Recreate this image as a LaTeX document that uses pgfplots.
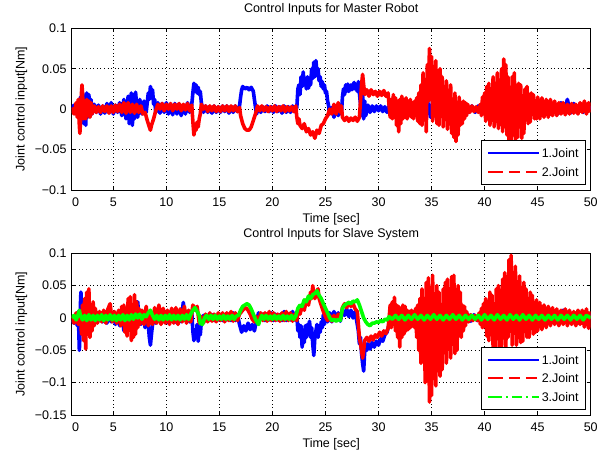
\documentclass[border=0pt]{standalone}
\usepackage{fontspec}
\setmainfont{Liberation Sans}
\usepackage{pgfplots}
\pgfplotsset{compat=1.18}
\begin{document}
\begin{tikzpicture}[font=\fontsize{12.5}{15}\selectfont]
\path[use as bounding box] (0pt,0pt) rectangle (611pt,452pt);
\pgfplotsset{
 myaxis/.style={
  scale only axis, width=519pt, height=161.7pt, anchor=south west,
  xmin=1.08, xmax=50,
  xtick={5,10,...,50},
  xticklabels={5,10,15,20,25,30,35,40,45,50},
  extra x ticks={1.44}, extra x tick labels={0},
  extra x tick style={grid=none, major tick length=0pt},
  tick align=inside, major tick length=4pt,
  tick style={black, line width=0.6pt},
  axis line style={black, line width=0.9pt},
  grid=major,
  major grid style={black, line width=0.5pt, dash pattern=on 0.6pt off 3pt},
  xticklabel style={anchor=base, yshift=-16.7pt, inner sep=0pt},
  yticklabel style={anchor=east, inner sep=0pt, xshift=-5pt},
  xlabel={Time [sec]},
  xlabel style={at={(axis description cs:0.5,0)}, anchor=base, yshift=-33pt},
  ylabel={Joint control input[Nm]},
  ylabel style={at={(axis description cs:-0.0909,0.5)}, anchor=base},
  title style={at={(axis description cs:0.5,1)}, anchor=base, yshift=9.5pt},
  legend style={at={(1,0)}, anchor=south east, xshift=-4.7pt, yshift=5pt,
    draw=black, line width=0.8pt, fill=white, inner xsep=5pt, inner ysep=6pt,
    row sep=5.6pt, nodes={inner sep=2pt, text depth=0pt}, cells={anchor=west}},
  legend image code/.code={\path (0pt,0pt) -- (4pt,0pt); \draw[##1] (4pt,0pt) -- (51pt,0pt);},
  every axis plot/.append style={line width=3.6pt, line join=round},
 }
}
% ---------------- Top: Master robot ----------------
\begin{axis}[myaxis, at={(71.7pt,262pt)},
  ymin=-0.1, ymax=0.1, ytick={-0.1,-0.05,0,0.05,0.1},
  yticklabels={−0.1,−0.05,0,0.05,0.1},
  title={Control Inputs for Master Robot}]
\addplot[blue, forget plot] coordinates {
(1.1,0.000)(1.3,0.005)(1.5,-0.006)(1.7,0.008)(1.8,-0.01)(1.9,0.015)(2.0,-0.012)(2.1,0.02)(2.2,-0.018)(2.3,0.016)(2.4,-0.02)(2.5,0.02)(2.6,-0.01)(2.7,0.018)(2.8,-0.008)(2.9,0.012)(3.0,-0.006)(3.2,0.006)(3.4,-0.004)(3.6,0.005)(3.8,-0.006)(4.0,0.004)(4.2,-0.005)(4.4,0.007)(4.6,-0.004)(4.8,0.008)(5.0,-0.006)(5.2,0.005)(5.4,-0.004)(5.6,0.008)(5.8,-0.008)(6.0,0.012)(6.2,-0.012)(6.4,0.016)(6.5,-0.018)(6.7,0.02)(6.8,-0.02)(6.9,0.018)(7.0,-0.012)(7.1,0.021)(7.3,-0.01)(7.5,0.012)(7.7,-0.006)(7.9,0.01)(8.1,-0.004)(8.3,0.02)(8.4,0.012)(8.5,0.028)(8.6,0.015)(8.7,0.024)(8.8,0.006)(8.9,0.012)(9.0,-0.004)(9.2,0.008)(9.4,-0.005)(9.6,0.007)(9.8,-0.004)(10.0,0.008)(10.2,-0.006)(10.4,0.006)(10.6,-0.007)(10.8,0.007)(11.0,-0.006)(11.2,0.006)(11.4,-0.008)(11.6,0.005)(11.8,-0.006)(12.0,0.008)(12.2,-0.004)(12.4,0.006)(12.5,0.02)(12.6,0.032)(12.7,0.022)(12.8,0.03)(12.9,0.02)(13.0,0.027)(13.1,0.018)(13.2,0.022)(13.3,0.008)(13.5,-0.004)(13.7,0.004)(13.9,-0.004)(14.1,0.003)(14.3,-0.005)(14.5,0.004)(14.7,-0.004)(14.9,0.003)(15.1,-0.004)(15.3,0.004)(15.5,-0.003)(15.7,0.004)(15.9,-0.005)(16.1,0.003)(16.3,-0.004)(16.5,0.004)(16.7,-0.003)(16.9,0.004)(17.0,0.015)(17.1,0.024)(17.2,0.028)(17.4,0.025)(17.6,0.027)(17.8,0.024)(18.0,0.027)(18.2,0.022)(18.3,0.012)(18.4,0.003)(18.5,-0.006)(18.7,0.002)(18.9,-0.004)(19.1,0.003)(19.3,-0.003)(19.5,0.004)(19.7,-0.003)(19.9,0.003)(20.1,-0.004)(20.3,0.004)(20.5,-0.003)(20.7,0.003)(20.9,-0.005)(21.1,0.004)(21.3,-0.004)(21.5,0.003)(21.7,-0.004)(21.9,0.004)(22.1,-0.003)(22.3,0.002)(22.4,0.025)(22.5,0.03)(22.6,0.018)(22.7,0.04)(22.8,0.028)(22.9,0.046)(23.0,0.03)(23.1,0.038)(23.2,0.025)(23.3,0.04)(23.4,0.026)(23.5,0.035)(23.6,0.03)(23.7,0.05)(23.8,0.038)(23.9,0.058)(24.0,0.04)(24.1,0.06)(24.2,0.045)(24.3,0.05)(24.4,0.035)(24.5,0.04)(24.6,0.028)(24.7,0.034)(24.8,0.025)(24.9,0.03)(25.0,0.02)(25.1,0.022)(25.2,0.01)(25.3,0.004)(25.4,-0.006)(25.6,0.002)(25.8,-0.01)(26.0,0.003)(26.2,-0.008)(26.4,0.004)(26.5,-0.006)(26.6,0.015)(26.7,0.025)(26.8,0.018)(26.9,0.03)(27.0,0.022)(27.1,0.031)(27.2,0.022)(27.4,0.03)(27.5,0.024)(27.7,0.033)(27.8,0.025)(27.9,0.028)(28.0,0.022)(28.1,0.034)(28.2,0.02)(28.3,0.006)(28.4,-0.008)(28.5,0.018)(28.6,-0.012)(28.7,0.01)(28.8,-0.008)(29.0,0.005)(29.2,-0.004)(29.4,0.004)(29.6,-0.003)(29.8,0.004)(30.0,-0.002)(30.2,0.004)(30.4,-0.003)(30.6,0.003)(30.8,-0.004)(31.0,0.004)(31.3,-0.005)(31.6,0.006)(31.9,-0.006)(32.2,0.005)(32.5,-0.005)(32.8,0.006)(33.1,-0.004)(33.4,0.005)(33.7,-0.006)(34.0,0.008)(34.3,-0.008)(34.6,0.012)(34.9,-0.01)(35.2,0.02)(35.5,-0.014)(35.8,0.018)(36.1,-0.01)(36.4,0.012)(36.7,-0.012)(37.0,0.01)(37.3,-0.008)(37.6,0.008)(37.9,-0.006)(38.2,0.006)(38.5,-0.004)(38.8,0.004)(39.1,-0.004)(39.4,0.004)(39.7,-0.003)(40.0,0.005)(40.3,-0.006)(40.6,0.008)(40.9,-0.008)(41.2,0.01)(41.5,-0.008)(41.8,0.012)(42.1,-0.01)(42.4,0.015)(42.7,-0.01)(43.0,0.01)(43.3,-0.008)(43.6,0.01)(43.9,-0.008)(44.2,0.008)(44.5,-0.006)(44.8,0.007)(45.1,-0.006)(45.4,0.006)(45.7,-0.007)(46.0,0.008)(46.3,-0.005)(46.6,0.006)(46.9,-0.006)(47.2,0.008)(47.5,-0.004)(47.8,0.012)(48.1,-0.005)(48.4,0.007)(48.7,-0.004)(49.0,0.006)(49.3,-0.004)(49.6,0.005)(50.0,0.000)
};
\addplot[red, forget plot] coordinates {
(1.1,0.002)(1.3,-0.006)(1.5,0.008)(1.6,-0.01)(1.7,0.012)(1.8,-0.02)(1.85,-0.03)(1.9,-0.018)(2.0,0.02)(2.05,0.03)(2.1,0.02)(2.2,-0.012)(2.3,0.01)(2.4,-0.012)(2.5,0.012)(2.6,-0.008)(2.7,0.01)(2.8,-0.01)(2.9,0.008)(3.0,-0.006)(3.2,0.004)(3.4,-0.004)(3.6,0.003)(3.8,-0.004)(4.0,0.004)(4.2,-0.003)(4.4,0.004)(4.6,-0.005)(4.8,0.004)(5.0,-0.004)(5.2,0.005)(5.4,-0.003)(5.6,0.006)(5.8,-0.004)(6.0,0.008)(6.2,-0.005)(6.4,0.008)(6.6,-0.004)(6.8,0.006)(7.0,-0.005)(7.2,0.006)(7.4,-0.004)(7.6,0.004)(7.8,-0.006)(8.0,-0.004)(8.2,-0.014)(8.4,-0.022)(8.5,-0.026)(8.6,-0.02)(8.8,-0.012)(9.0,-0.002)(9.2,0.006)(9.4,0.0)(9.6,0.007)(9.8,-0.002)(10.0,0.006)(10.2,0.0)(10.4,0.007)(10.6,-0.002)(10.8,0.006)(11.0,0.0)(11.2,0.007)(11.4,-0.002)(11.6,0.006)(11.8,-0.001)(12.0,0.007)(12.2,-0.002)(12.4,0.005)(12.5,-0.015)(12.6,-0.032)(12.7,-0.022)(12.8,-0.026)(12.9,-0.016)(13.0,-0.022)(13.1,-0.012)(13.2,-0.006)(13.3,0.006)(13.5,0.0)(13.7,0.004)(13.9,-0.003)(14.1,0.004)(14.3,-0.002)(14.5,0.004)(14.7,-0.003)(14.9,0.003)(15.1,-0.003)(15.3,0.004)(15.5,-0.002)(15.7,0.004)(15.9,-0.003)(16.1,0.004)(16.3,-0.002)(16.5,0.004)(16.7,-0.003)(16.9,0.002)(17.0,-0.008)(17.2,-0.018)(17.4,-0.024)(17.6,-0.026)(17.8,-0.026)(18.0,-0.022)(18.2,-0.014)(18.4,-0.006)(18.6,0.004)(18.8,-0.002)(19.0,0.004)(19.2,-0.002)(19.4,0.003)(19.6,-0.003)(19.8,0.003)(20.0,-0.002)(20.2,0.004)(20.4,-0.003)(20.6,0.003)(20.8,-0.002)(21.0,0.004)(21.2,-0.003)(21.4,0.003)(21.6,-0.002)(21.8,0.003)(22.0,-0.003)(22.2,0.004)(22.3,-0.01)(22.4,-0.018)(22.5,-0.012)(22.6,-0.02)(22.8,-0.024)(23.0,-0.018)(23.2,-0.028)(23.4,-0.024)(23.6,-0.032)(23.8,-0.028)(24.0,-0.036)(24.2,-0.026)(24.4,-0.03)(24.6,-0.02)(24.8,-0.018)(25.0,-0.012)(25.2,-0.008)(25.4,0.0)(25.6,-0.006)(25.8,0.006)(26.0,-0.006)(26.2,0.008)(26.4,-0.004)(26.5,0.004)(26.6,-0.01)(26.8,-0.014)(27.0,-0.01)(27.2,-0.015)(27.4,-0.011)(27.6,-0.014)(27.8,-0.01)(28.0,-0.015)(28.2,-0.01)(28.3,0.01)(28.4,0.03)(28.5,0.043)(28.6,0.03)(28.7,0.018)(28.9,0.024)(29.1,0.016)(29.3,0.024)(29.5,0.018)(29.7,0.022)(29.9,0.016)(30.1,0.022)(30.3,0.017)(30.5,0.023)(30.7,0.016)(30.9,0.02)(31.0,0.004)(31.1,-0.01)(31.2,0.012)(31.3,-0.012)(31.4,0.018)(31.5,-0.01)(31.6,0.014)(31.7,-0.02)(31.8,0.01)(31.9,-0.028)(32.0,0.012)(32.1,-0.018)(32.2,0.016)(32.3,-0.012)(32.4,0.012)(32.5,-0.01)(32.6,0.014)(32.7,-0.012)(32.8,0.01)(32.9,-0.008)(33.0,0.012)(33.1,-0.01)(33.2,0.008)(33.3,-0.012)(33.4,0.01)(33.5,-0.008)(33.6,0.014)(33.7,-0.015)(33.8,0.02)(33.9,-0.018)(34.0,0.03)(34.1,-0.02)(34.2,0.045)(34.3,-0.01)(34.4,0.035)(34.5,-0.028)(34.6,0.055)(34.7,0.01)(34.8,0.075)(34.9,0.02)(35.0,0.065)(35.1,-0.015)(35.2,0.05)(35.3,0.0)(35.4,0.06)(35.5,-0.018)(35.6,0.03)(35.7,-0.02)(35.8,0.05)(35.9,0.005)(36.0,0.04)(36.1,-0.022)(36.2,0.025)(36.3,-0.01)(36.4,0.035)(36.5,-0.025)(36.6,0.02)(36.7,-0.015)(36.8,0.03)(36.9,-0.03)(37.0,0.01)(37.1,-0.035)(37.2,0.02)(37.3,-0.04)(37.4,-0.01)(37.5,-0.032)(37.6,0.015)(37.7,-0.02)(37.8,0.008)(37.9,-0.018)(38.0,0.01)(38.1,-0.012)(38.2,0.008)(38.3,-0.008)(38.4,0.006)(38.6,-0.004)(38.8,0.004)(39.0,-0.003)(39.2,0.003)(39.4,-0.004)(39.6,0.006)(39.7,-0.008)(39.8,0.015)(39.9,-0.005)(40.0,0.02)(40.1,-0.015)(40.2,0.028)(40.3,0.0)(40.4,0.032)(40.5,-0.02)(40.6,0.02)(40.7,-0.012)(40.8,0.04)(40.9,-0.022)(41.0,0.03)(41.1,0.005)(41.2,0.045)(41.3,-0.024)(41.4,0.035)(41.5,-0.01)(41.6,0.05)(41.7,-0.028)(41.8,0.062)(41.9,0.03)(42.0,0.055)(42.1,-0.032)(42.2,0.04)(42.3,-0.038)(42.4,0.02)(42.5,-0.04)(42.6,0.04)(42.7,-0.02)(42.8,0.045)(42.9,-0.04)(43.0,0.025)(43.1,-0.035)(43.2,0.032)(43.3,-0.01)(43.4,0.03)(43.5,-0.036)(43.6,0.015)(43.7,-0.03)(43.8,0.025)(43.9,-0.01)(44.0,0.028)(44.1,-0.018)(44.2,0.012)(44.3,-0.016)(44.4,0.02)(44.5,-0.005)(44.6,0.018)(44.7,-0.012)(44.8,0.01)(44.9,-0.012)(45.0,0.015)(45.2,-0.012)(45.4,0.014)(45.6,-0.01)(45.8,0.012)(46.0,-0.01)(46.2,0.012)(46.4,-0.008)(46.6,0.01)(46.8,-0.008)(47.0,0.008)(47.2,-0.006)(47.4,0.008)(47.6,-0.007)(47.8,0.006)(48.0,-0.006)(48.2,0.007)(48.4,-0.005)(48.6,0.006)(48.8,-0.006)(49.0,0.008)(49.2,-0.004)(49.4,0.01)(49.6,-0.006)(49.8,0.008)(50.0,-0.004)
};
\addlegendimage{blue, solid, line width=2pt}
\addlegendentry{1.Joint}
\addlegendimage{red, line width=2pt, dash pattern=on 11pt off 6pt}
\addlegendentry{2.Joint}
\end{axis}
% ---------------- Bottom: Slave system ----------------
\begin{axis}[myaxis, at={(71.7pt,37pt)},
  ymin=-0.15, ymax=0.1, ytick={-0.15,-0.1,-0.05,0,0.05,0.1},
  yticklabels={−0.15,−0.1,−0.05,0,0.05,0.1},
  title={Control Inputs for Slave System}]
\addplot[blue, forget plot] coordinates {
(1.1,-0.004)(1.3,-0.008)(1.5,0.004)(1.6,-0.012)(1.7,0.01)(1.8,-0.05)(1.85,-0.03)(1.9,0.02)(1.95,0.04)(2.0,0.015)(2.1,-0.01)(2.2,0.008)(2.4,-0.01)(2.6,0.006)(2.8,-0.008)(3.0,0.006)(3.2,-0.006)(3.4,0.008)(3.6,-0.005)(3.8,0.006)(4.0,-0.006)(4.2,0.005)(4.4,-0.008)(4.6,0.006)(4.8,-0.006)(5.0,0.008)(5.2,-0.01)(5.4,0.006)(5.6,-0.012)(5.8,0.008)(6.0,-0.02)(6.2,0.01)(6.4,-0.015)(6.6,0.012)(6.8,-0.03)(7.0,0.005)(7.2,-0.01)(7.3,0.025)(7.4,0.005)(7.6,-0.01)(7.8,0.01)(8.0,-0.015)(8.2,0.008)(8.4,-0.03)(8.5,-0.042)(8.6,-0.025)(8.8,0.005)(9.0,-0.008)(9.2,0.01)(9.4,-0.006)(9.6,0.012)(9.8,-0.006)(10.0,0.01)(10.2,-0.008)(10.4,0.01)(10.6,-0.006)(10.8,0.012)(11.0,-0.008)(11.2,0.01)(11.4,-0.006)(11.6,0.024)(11.8,-0.004)(12.0,0.01)(12.2,-0.006)(12.4,0.008)(12.5,-0.02)(12.6,-0.035)(12.7,-0.02)(12.8,-0.03)(12.9,-0.01)(13.0,-0.036)(13.1,-0.018)(13.2,-0.026)(13.3,-0.006)(13.5,0.004)(13.7,-0.004)(13.9,0.004)(14.1,-0.003)(14.3,0.005)(14.5,-0.004)(14.7,0.004)(14.9,-0.003)(15.1,0.005)(15.3,-0.004)(15.5,0.004)(15.7,-0.003)(15.9,0.006)(16.1,-0.004)(16.3,0.008)(16.5,-0.004)(16.7,0.005)(16.9,-0.01)(17.1,-0.022)(17.3,-0.012)(17.5,-0.02)(17.7,-0.008)(17.9,-0.018)(18.1,-0.01)(18.3,-0.02)(18.5,-0.004)(18.7,0.008)(18.9,-0.002)(19.1,0.006)(19.3,-0.004)(19.5,0.006)(19.7,-0.003)(19.9,0.008)(20.1,-0.004)(20.3,0.006)(20.5,-0.003)(20.7,0.005)(20.9,-0.004)(21.1,0.01)(21.3,-0.004)(21.5,0.006)(21.7,-0.003)(21.9,0.01)(22.1,-0.003)(22.3,0.004)(22.4,-0.02)(22.5,-0.01)(22.6,-0.03)(22.7,-0.012)(22.8,-0.045)(22.9,-0.02)(23.0,-0.038)(23.1,-0.012)(23.2,-0.03)(23.3,-0.01)(23.4,-0.025)(23.5,-0.005)(23.6,-0.03)(23.7,-0.015)(23.8,-0.04)(23.9,-0.058)(24.0,-0.03)(24.1,-0.02)(24.2,-0.01)(24.3,-0.03)(24.4,-0.012)(24.5,-0.022)(24.6,-0.006)(24.7,-0.015)(24.8,0.005)(24.9,-0.01)(25.0,0.01)(25.2,-0.006)(25.4,0.008)(25.6,-0.006)(25.8,0.01)(26.0,-0.004)(26.2,0.008)(26.4,-0.005)(26.6,0.012)(26.8,0.004)(27.0,0.014)(27.2,0.002)(27.4,0.012)(27.6,0.0)(27.8,0.01)(28.0,-0.01)(28.1,-0.02)(28.2,-0.04)(28.3,-0.03)(28.4,-0.055)(28.5,-0.07)(28.6,-0.082)(28.7,-0.05)(28.8,-0.04)(28.9,-0.05)(29.0,-0.04)(29.2,-0.048)(29.4,-0.038)(29.6,-0.045)(29.8,-0.036)(30.0,-0.042)(30.2,-0.032)(30.4,-0.036)(30.6,-0.026)(30.8,-0.022)(31.0,-0.01)(31.2,0.004)(31.5,-0.008)(31.8,0.006)(32.1,-0.008)(32.4,0.008)(32.7,-0.006)(33.0,0.01)(33.3,-0.008)(33.6,0.012)(33.9,-0.01)(34.2,0.02)(34.5,-0.012)(34.8,0.018)(35.1,-0.01)(35.4,0.016)(35.7,-0.012)(36.0,0.012)(36.3,-0.01)(36.6,0.01)(36.9,-0.008)(37.2,0.01)(37.5,-0.008)(37.8,0.008)(38.1,-0.006)(38.4,0.006)(38.7,-0.005)(39.0,0.005)(39.3,-0.004)(39.6,0.008)(39.9,-0.008)(40.2,0.01)(40.5,-0.012)(40.8,0.012)(41.1,-0.014)(41.4,0.02)(41.7,-0.01)(42.0,0.012)(42.3,-0.012)(42.6,0.01)(42.9,-0.01)(43.2,0.01)(43.5,-0.008)(43.8,0.01)(44.1,-0.008)(44.4,0.008)(44.7,-0.006)(45.0,0.008)(45.3,-0.006)(45.6,0.006)(45.9,-0.008)(46.2,0.008)(46.5,-0.006)(46.8,0.006)(47.1,-0.006)(47.4,0.012)(47.7,-0.004)(48.0,0.008)(48.3,-0.006)(48.6,0.007)(48.9,-0.008)(49.2,0.01)(49.5,-0.004)(49.8,0.006)(50.0,-0.002)
};
\addplot[red, forget plot] coordinates {
(1.1,0.002)(1.3,-0.008)(1.5,0.008)(1.7,-0.01)(1.9,0.01)(2.0,-0.025)(2.1,0.02)(2.2,-0.035)(2.3,0.03)(2.4,-0.048)(2.5,0.04)(2.6,-0.02)(2.7,0.045)(2.8,-0.03)(2.9,0.015)(3.0,-0.02)(3.1,0.025)(3.2,-0.012)(3.3,0.015)(3.5,-0.008)(3.7,0.01)(3.9,-0.006)(4.1,0.012)(4.3,-0.008)(4.5,0.014)(4.7,0.022)(4.9,-0.006)(5.1,0.01)(5.3,-0.008)(5.5,0.012)(5.7,-0.012)(5.8,0.018)(5.9,-0.008)(6.0,0.02)(6.1,-0.022)(6.2,0.01)(6.3,-0.028)(6.4,0.03)(6.5,-0.012)(6.6,0.033)(6.7,-0.035)(6.8,0.02)(6.9,-0.03)(7.0,0.036)(7.1,-0.025)(7.2,0.025)(7.3,-0.015)(7.4,0.015)(7.5,-0.01)(7.7,0.012)(7.9,-0.01)(8.1,0.018)(8.3,-0.012)(8.5,0.01)(8.7,-0.01)(8.9,0.016)(9.1,-0.008)(9.3,0.02)(9.5,-0.01)(9.7,0.015)(9.9,-0.008)(10.1,0.012)(10.3,-0.01)(10.5,0.015)(10.7,-0.008)(10.9,0.016)(11.1,-0.01)(11.3,0.014)(11.5,-0.006)(11.7,0.018)(11.9,-0.008)(12.1,0.012)(12.3,-0.006)(12.5,0.02)(12.7,0.012)(12.9,0.018)(13.1,-0.008)(13.3,0.002)(13.5,-0.008)(13.7,0.006)(13.9,-0.006)(14.1,0.008)(14.3,-0.005)(14.5,0.006)(14.7,-0.006)(14.9,0.008)(15.1,-0.004)(15.3,0.008)(15.5,-0.006)(15.7,0.008)(15.9,-0.004)(16.1,0.01)(16.3,-0.005)(16.5,0.008)(16.7,-0.004)(16.9,0.006)(17.1,0.01)(17.3,0.014)(17.5,0.016)(17.7,0.012)(17.9,0.006)(18.1,-0.002)(18.3,-0.006)(18.5,0.002)(18.7,-0.006)(18.9,0.008)(19.1,-0.004)(19.3,0.008)(19.5,-0.005)(19.7,0.01)(19.9,-0.004)(20.1,0.008)(20.3,-0.004)(20.5,0.006)(20.7,-0.005)(20.9,0.008)(21.1,-0.004)(21.3,0.01)(21.5,-0.004)(21.7,0.008)(21.9,-0.005)(22.1,0.006)(22.3,-0.004)(22.4,0.012)(22.6,0.006)(22.8,0.018)(23.0,0.012)(23.2,0.028)(23.4,0.02)(23.6,0.04)(23.7,0.03)(23.8,0.05)(23.9,0.035)(24.0,0.03)(24.2,0.042)(24.3,0.045)(24.4,0.03)(24.6,0.02)(24.8,0.01)(25.0,0.002)(25.2,-0.004)(25.4,0.004)(25.6,-0.005)(25.8,0.004)(26.0,-0.004)(26.2,0.006)(26.4,-0.002)(26.6,0.016)(26.8,0.022)(27.0,0.016)(27.2,0.024)(27.4,0.018)(27.6,0.022)(27.8,0.014)(28.0,0.01)(28.1,-0.01)(28.2,-0.03)(28.3,-0.04)(28.4,-0.05)(28.5,-0.062)(28.6,-0.05)(28.7,-0.035)(28.9,-0.03)(29.1,-0.036)(29.3,-0.028)(29.5,-0.034)(29.7,-0.026)(29.9,-0.03)(30.1,-0.022)(30.3,-0.028)(30.5,-0.02)(30.7,-0.024)(30.9,-0.016)(31.0,0.0)(31.1,0.02)(31.2,-0.015)(31.3,0.025)(31.4,-0.01)(31.5,0.032)(31.6,-0.02)(31.7,0.02)(31.8,-0.03)(31.9,0.018)(32.0,-0.045)(32.1,0.015)(32.2,-0.03)(32.3,0.02)(32.4,-0.025)(32.5,0.018)(32.6,-0.02)(32.7,0.012)(32.8,-0.018)(32.9,0.01)(33.0,-0.015)(33.1,0.012)(33.2,-0.012)(33.3,0.01)(33.4,-0.015)(33.5,0.015)(33.6,-0.03)(33.7,0.02)(33.8,-0.05)(33.9,0.03)(34.0,-0.07)(34.1,0.045)(34.2,-0.04)(34.3,0.03)(34.4,-0.1)(34.5,0.055)(34.6,-0.06)(34.7,0.062)(34.8,-0.13)(34.9,0.02)(35.0,-0.12)(35.1,0.066)(35.2,-0.08)(35.3,0.03)(35.4,-0.105)(35.5,0.05)(35.6,-0.06)(35.7,0.04)(35.8,-0.09)(35.9,0.01)(36.0,-0.08)(36.1,0.045)(36.2,-0.04)(36.3,0.055)(36.4,-0.07)(36.5,0.06)(36.6,-0.03)(36.7,0.045)(36.8,-0.062)(36.9,0.064)(37.0,-0.04)(37.1,0.066)(37.2,-0.055)(37.3,0.03)(37.4,-0.05)(37.5,0.05)(37.6,-0.02)(37.7,0.04)(37.8,-0.03)(37.9,0.02)(38.0,-0.02)(38.1,0.018)(38.2,-0.012)(38.3,0.01)(38.5,-0.006)(38.7,0.005)(38.9,-0.004)(39.1,0.004)(39.3,-0.004)(39.5,0.008)(39.6,-0.01)(39.7,0.015)(39.8,-0.015)(39.9,0.022)(40.0,-0.005)(40.1,0.03)(40.2,-0.028)(40.3,0.02)(40.4,-0.035)(40.5,0.04)(40.6,-0.01)(40.7,0.035)(40.8,-0.045)(40.9,0.02)(41.0,-0.05)(41.1,0.045)(41.2,-0.02)(41.3,0.05)(41.4,-0.05)(41.5,0.03)(41.6,-0.045)(41.7,0.06)(41.8,-0.02)(41.9,0.07)(42.0,-0.045)(42.1,0.05)(42.2,-0.03)(42.3,0.09)(42.4,0.02)(42.5,0.097)(42.6,-0.042)(42.7,0.07)(42.8,-0.02)(42.9,0.08)(43.0,-0.042)(43.1,0.05)(43.2,-0.03)(43.3,0.065)(43.4,-0.038)(43.5,0.035)(43.6,-0.036)(43.7,0.055)(43.8,-0.015)(43.9,0.045)(44.0,-0.03)(44.1,0.03)(44.2,-0.03)(44.3,0.04)(44.4,-0.01)(44.5,0.035)(44.6,-0.025)(44.7,0.02)(44.8,-0.022)(44.9,0.028)(45.0,-0.02)(45.2,0.024)(45.4,-0.018)(45.6,0.02)(45.8,-0.015)(46.0,0.018)(46.2,-0.012)(46.4,0.016)(46.6,-0.01)(46.8,0.014)(47.0,-0.012)(47.2,0.012)(47.4,-0.01)(47.6,0.014)(47.8,-0.012)(48.0,0.012)(48.2,-0.01)(48.4,0.01)(48.6,-0.012)(48.8,0.012)(49.0,-0.01)(49.2,0.012)(49.4,-0.014)(49.6,0.014)(49.8,-0.016)(50.0,0.01)
};
\addplot[green, forget plot] coordinates {
(1.1,0.0)(1.3,0.004)(1.5,-0.003)(1.7,0.006)(1.8,0.012)(1.9,0.004)(2.1,-0.003)(2.3,0.004)(2.5,-0.004)(2.7,0.005)(2.9,-0.003)(3.1,0.004)(3.3,-0.004)(3.5,0.004)(3.7,-0.003)(3.9,0.005)(4.1,-0.004)(4.3,0.004)(4.5,-0.003)(4.7,0.005)(4.9,-0.003)(5.1,0.004)(5.3,-0.004)(5.5,0.004)(5.7,-0.003)(5.9,0.005)(6.1,-0.004)(6.3,0.004)(6.5,-0.003)(6.7,0.005)(6.9,-0.002)(7.1,0.006)(7.3,0.0)(7.5,0.006)(7.7,-0.002)(7.9,0.005)(8.1,0.002)(8.3,0.008)(8.5,0.012)(8.7,0.004)(8.9,-0.002)(9.1,0.004)(9.3,-0.003)(9.5,0.004)(9.7,-0.003)(9.9,0.004)(10.1,-0.002)(10.3,0.005)(10.5,-0.003)(10.7,0.004)(10.9,-0.002)(11.1,0.004)(11.3,-0.003)(11.5,0.004)(11.7,-0.002)(11.9,0.005)(12.1,-0.002)(12.3,0.006)(12.5,0.012)(12.7,0.016)(12.9,0.01)(13.1,0.004)(13.2,-0.008)(13.4,-0.01)(13.6,0.0)(13.8,0.004)(14.0,-0.002)(14.2,0.004)(14.4,-0.002)(14.6,0.004)(14.8,-0.002)(15.0,0.003)(15.2,-0.002)(15.4,0.004)(15.6,-0.002)(15.8,0.003)(16.0,-0.002)(16.2,0.004)(16.4,-0.002)(16.6,0.003)(16.8,0.004)(17.0,0.012)(17.2,0.018)(17.4,0.02)(17.6,0.022)(17.8,0.02)(18.0,0.014)(18.2,0.006)(18.4,-0.002)(18.6,-0.008)(18.7,-0.01)(18.8,-0.004)(19.0,0.004)(19.2,-0.002)(19.4,0.004)(19.6,-0.002)(19.8,0.003)(20.0,-0.002)(20.2,0.004)(20.4,-0.002)(20.6,0.003)(20.8,-0.002)(21.0,0.004)(21.2,-0.002)(21.4,0.003)(21.6,-0.002)(21.8,0.004)(22.0,-0.002)(22.2,0.003)(22.4,0.015)(22.6,0.02)(22.8,0.018)(23.0,0.028)(23.2,0.025)(23.4,0.034)(23.6,0.03)(23.8,0.036)(24.0,0.038)(24.2,0.042)(24.4,0.035)(24.6,0.03)(24.8,0.022)(25.0,0.015)(25.2,0.008)(25.4,0.0)(25.6,-0.004)(25.8,-0.002)(26.0,-0.005)(26.2,-0.002)(26.4,-0.004)(26.6,0.015)(26.8,0.02)(27.0,0.022)(27.2,0.024)(27.4,0.022)(27.6,0.026)(27.8,0.025)(28.0,0.028)(28.2,0.02)(28.4,0.01)(28.6,0.0)(28.8,-0.006)(29.0,-0.01)(29.2,-0.012)(29.4,-0.008)(29.6,-0.008)(29.8,-0.006)(30.0,-0.007)(30.2,-0.004)(30.4,-0.006)(30.6,-0.002)(30.8,-0.003)(31.0,0.002)(31.3,-0.002)(31.6,0.004)(31.9,-0.002)(32.2,0.004)(32.5,-0.003)(32.8,0.004)(33.1,-0.002)(33.4,0.005)(33.7,-0.002)(34.0,0.004)(34.3,-0.003)(34.6,0.004)(34.9,-0.002)(35.2,0.005)(35.5,-0.002)(35.8,0.004)(36.1,-0.003)(36.4,0.004)(36.7,-0.002)(37.0,0.005)(37.3,-0.002)(37.6,0.004)(37.9,-0.003)(38.2,0.004)(38.5,-0.002)(38.8,0.004)(39.1,-0.002)(39.4,0.004)(39.7,-0.003)(40.0,0.005)(40.3,-0.002)(40.6,0.004)(40.9,-0.003)(41.2,0.005)(41.5,-0.002)(41.8,0.004)(42.1,-0.003)(42.4,0.005)(42.7,-0.002)(43.0,0.004)(43.3,-0.003)(43.6,0.005)(43.9,-0.002)(44.2,0.004)(44.5,-0.003)(44.8,0.004)(45.1,-0.002)(45.4,0.004)(45.7,-0.003)(46.0,0.004)(46.3,-0.002)(46.6,0.004)(46.9,-0.003)(47.2,0.004)(47.5,-0.002)(47.8,0.004)(48.1,-0.003)(48.4,0.004)(48.7,-0.002)(49.0,0.004)(49.3,-0.003)(49.6,0.004)(50.0,0.0)
};
\addlegendimage{blue, solid, line width=2pt}
\addlegendentry{1.Joint}
\addlegendimage{red, line width=2pt, dash pattern=on 11pt off 6pt}
\addlegendentry{2.Joint}
\addlegendimage{green, line width=2pt, dash pattern=on 10pt off 4pt on 2pt off 4pt}
\addlegendentry{3.Joint}
\end{axis}
\end{tikzpicture}
\end{document}
